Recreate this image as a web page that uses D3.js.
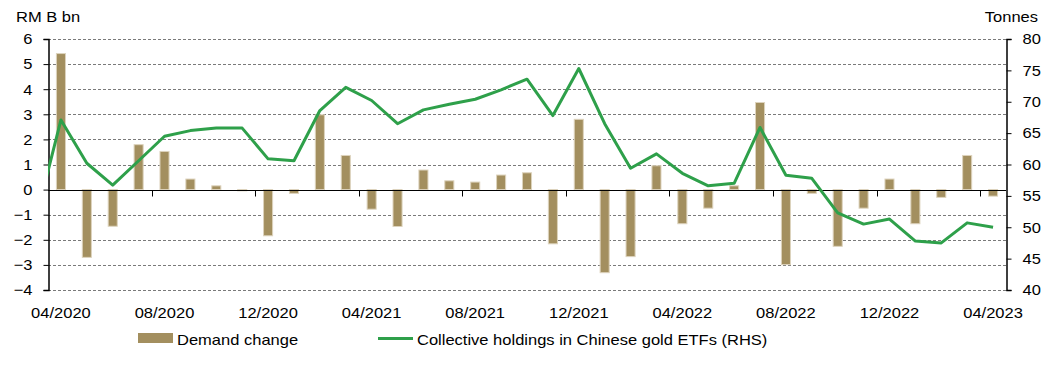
<!DOCTYPE html>
<html>
<head>
<meta charset="utf-8">
<script src="https://cdn.jsdelivr.net/npm/d3@7"></script>
<style>
  body { margin: 0; background: #fff; }
  text { font-family: "Liberation Sans", Arial, sans-serif; fill: #000; }
</style>
</head>
<body>
<div id="chart-area"></div>
<script>
// Data
const months = ["04/2020","05/2020","06/2020","07/2020","08/2020","09/2020","10/2020","11/2020","12/2020",
  "01/2021","02/2021","03/2021","04/2021","05/2021","06/2021","07/2021","08/2021","09/2021","10/2021",
  "11/2021","12/2021","01/2022","02/2022","03/2022","04/2022","05/2022","06/2022","07/2022","08/2022",
  "09/2022","10/2022","11/2022","12/2022","01/2023","02/2023","03/2023","04/2023"]
const demandChange = [5.42, -2.70, -1.46, 1.79, 1.52, 0.42, 0.15, -0.05, -1.84, -0.15, 2.98, 1.36,
  -0.78, -1.47, 0.78, 0.35, 0.30, 0.58, 0.67, -2.16, 2.80, -3.31, -2.67, 0.95, -1.36, -0.74,
  0.15, 3.47, -2.99, -0.15, -2.26, -0.74, 0.42, -1.36, -0.31, 1.36, -0.26]
const etfHoldings = [67.1, 60.2, 56.7, 60.6, 64.5, 65.4, 65.8, 65.8, 60.9, 60.6, 68.6, 72.3,
  70.2, 66.5, 68.7, 69.6, 70.4, 71.9, 73.6, 67.8, 75.3, 66.5, 59.4, 61.7, 58.6, 56.6,
  57.0, 65.9, 58.3, 57.8, 52.3, 50.5, 51.3, 47.8, 47.5, 50.7, 50.0]
const etfPrevMonth = 50.8 // 03/2020, runs off the left edge
const leftTicks = [-4, -3, -2, -1, 0, 1, 2, 3, 4, 5, 6]
const rightTicks = [40, 45, 50, 55, 60, 65, 70, 75, 80]
const xLabels = ["04/2020","08/2020","12/2020","04/2021","08/2021","12/2021","04/2022","08/2022","12/2022","04/2023"]

const W = 1064, H = 376
const PLOT = { LEFT: 48, RIGHT: 1006, TOP: 39, BOTTOM: 290 }
const BAR = "#a38f5f"
const GREEN = "#2ea04a"
const STRETCH = 1.1 // text in the source is drawn a bit wide

const svg = d3.select("#chart-area").append("svg")
  .attr("width", W)
  .attr("height", H)

const x = d3.scaleBand()
  .domain(months)
  .range([PLOT.LEFT, PLOT.RIGHT])
  .paddingInner(0.65)
  .paddingOuter(0.325)
const step = x.step()
const cx = m => x(m) + x.bandwidth() / 2

const yL = d3.scaleLinear().domain([-4, 6]).range([PLOT.BOTTOM, PLOT.TOP])
const yR = d3.scaleLinear().domain([40, 80]).range([PLOT.BOTTOM, PLOT.TOP])

// Gridlines
svg.append("g").selectAll("line")
  .data(leftTicks.filter(d => d !== 0))
  .enter().append("line")
  .attr("x1", PLOT.LEFT).attr("x2", PLOT.RIGHT)
  .attr("y1", d => Math.round(yL(d)) + 0.5).attr("y2", d => Math.round(yL(d)) + 0.5)
  .attr("stroke", "#7a7a7a")
  .attr("stroke-dasharray", "3,2")

// Left axis
const leftAxis = svg.append("g")
  .attr("transform", `translate(${PLOT.LEFT + 0.5},0)`)
  .call(d3.axisLeft(yL).tickValues(leftTicks).tickSize(5).tickPadding(11).tickFormat(d3.format("d")))
leftAxis.select(".domain").attr("stroke", "#000").attr("stroke-width", 1.5)
leftAxis.selectAll("text").attr("font-size", "15px").attr("fill", "#000")
  .style("font-family", "'Liberation Sans', Arial, sans-serif")

// Right axis
const rightAxis = svg.append("g")
  .attr("transform", `translate(${PLOT.RIGHT + 0.5},0)`)
  .call(d3.axisRight(yR).tickValues(rightTicks).tickSize(5).tickPadding(11))
rightAxis.select(".domain").attr("stroke", "#000").attr("stroke-width", 1.5)
rightAxis.selectAll("text").attr("font-size", "15px").attr("fill", "#000")
  .style("font-family", "'Liberation Sans', Arial, sans-serif")

// Bars
svg.append("g").selectAll("rect")
  .data(months)
  .enter().append("rect")
  .attr("x", m => x(m))
  .attr("width", x.bandwidth())
  .attr("y", (m, i) => yL(Math.max(0, demandChange[i])))
  .attr("height", (m, i) => Math.abs(yL(demandChange[i]) - yL(0)))
  .attr("fill", BAR)
  .attr("stroke", "#ddd3bd")
  .attr("stroke-width", 1)

// Zero line with month ticks
const zeroY = Math.round(yL(0)) + 0.5
svg.append("line")
  .attr("x1", PLOT.LEFT).attr("x2", PLOT.RIGHT)
  .attr("y1", zeroY).attr("y2", zeroY)
  .attr("stroke", "#000").attr("stroke-width", 1.2)
svg.append("g").selectAll("line")
  .data(xLabels.slice(1))
  .enter().append("line")
  .attr("x1", m => Math.round(cx(m) - step / 2) + 0.5)
  .attr("x2", m => Math.round(cx(m) - step / 2) + 0.5)
  .attr("y1", zeroY).attr("y2", zeroY + 6)
  .attr("stroke", "#000")

// X labels
svg.append("g").selectAll("text")
  .data(xLabels)
  .enter().append("text")
  .attr("x", m => cx(m))
  .attr("y", 318)
  .attr("text-anchor", "middle")
  .attr("font-size", "15px")
  .text(m => m)

// ETF line (clipped to plot area)
svg.append("clipPath").attr("id", "plot-clip")
  .append("rect")
  .attr("x", PLOT.LEFT).attr("y", 0)
  .attr("width", PLOT.RIGHT - PLOT.LEFT).attr("height", H)

const linePts = [[cx(months[0]) - step, etfPrevMonth]]
  .concat(months.map((m, i) => [cx(m), etfHoldings[i]]))

svg.append("path")
  .datum(linePts)
  .attr("clip-path", "url(#plot-clip)")
  .attr("fill", "none")
  .attr("stroke", GREEN)
  .attr("stroke-width", 3)
  .attr("stroke-linejoin", "round")
  .attr("d", d3.line().x(d => d[0]).y(d => yR(d[1])))

// Axis titles
svg.append("text").attr("x", 16).attr("y", 22).attr("font-size", "15px").text("RM B bn")
svg.append("text").attr("x", 1038).attr("y", 22).attr("font-size", "15px")
  .attr("text-anchor", "end").text("Tonnes")

// Legend
const legend = svg.append("g")
legend.append("rect")
  .attr("x", 138).attr("y", 333).attr("width", 35).attr("height", 10)
  .attr("fill", BAR)
legend.append("text").attr("x", 177).attr("y", 345).attr("font-size", "15px").text("Demand change")
legend.append("line")
  .attr("x1", 378).attr("x2", 413).attr("y1", 338.5).attr("y2", 338.5)
  .attr("stroke", GREEN).attr("stroke-width", 3)
legend.append("text").attr("x", 417).attr("y", 345).attr("font-size", "15px")
  .text("Collective holdings in Chinese gold ETFs (RHS)")

// widen all text to match the source
svg.selectAll("text").each(function () {
  const w = this.getComputedTextLength()
  d3.select(this).attr("textLength", w * STRETCH).attr("lengthAdjust", "spacingAndGlyphs")
})
</script>
</body>
</html>
